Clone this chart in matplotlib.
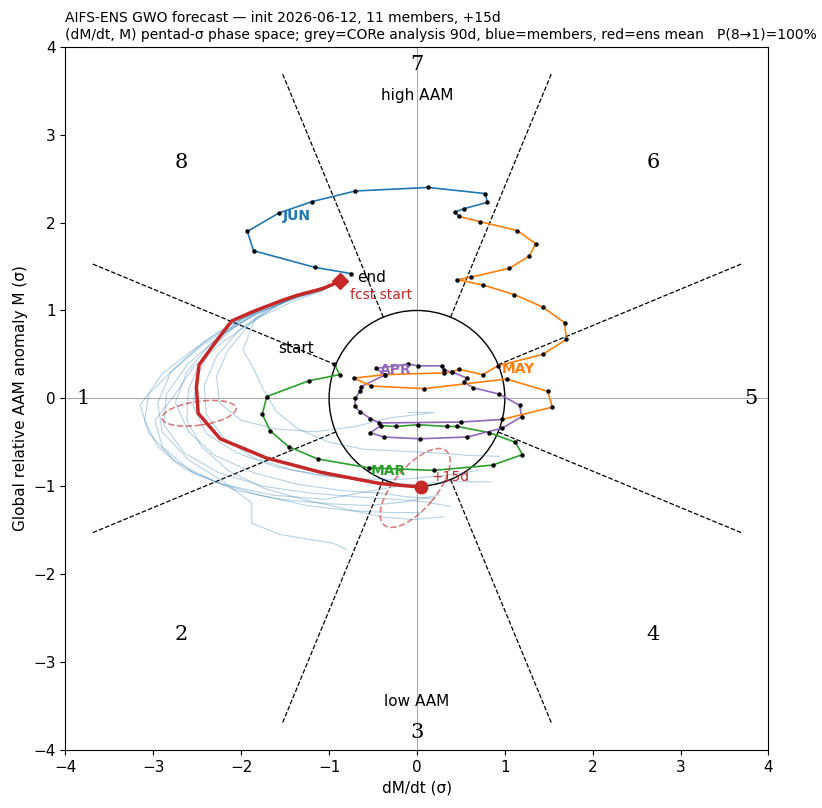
import numpy as np
import matplotlib
matplotlib.use('Agg')
import matplotlib.pyplot as plt
from matplotlib.patches import Circle, Ellipse

# %% analysis trajectory (CORe, 90d), split by month
mar_x = [-0.94, -0.88, -1.23, -1.71, -1.76, -1.67, -1.46, -1.13, -0.55, 0.19, 0.86, 1.20, 1.12, 0.82, 0.46, 0.34, 0.01, -0.24, -0.41]
mar_y = [0.39, 0.27, 0.20, 0.02, -0.18, -0.37, -0.55, -0.69, -0.79, -0.82, -0.76, -0.64, -0.50, -0.39, -0.32, -0.32, -0.30, -0.32, -0.31]
apr_x = [-0.53, -0.38, 0.03, 0.57, 0.97, 1.19, 1.17, 0.93, 0.64, 0.53, 0.57, 0.40, 0.31, 0.28, 0.01, -0.10, -0.47, -0.36, -0.64, -0.65, -0.70, -0.71, -0.65, -0.53, -0.43, 0.50, 0.97]
apr_y = [-0.39, -0.44, -0.46, -0.44, -0.34, -0.21, -0.08, 0.05, 0.12, 0.19, 0.23, 0.30, 0.32, 0.37, 0.37, 0.39, 0.34, 0.27, 0.13, 0.08, 0.00, -0.09, -0.15, -0.23, -0.28, -0.27, -0.24]
may_x = [1.54, 1.49, 1.02, 0.08, -0.52, -0.72, -0.36, 0.31, 0.40, 0.48, 0.75, 0.92, 1.43, 1.70, 1.68, 1.43, 1.11, 0.75, 0.46, 0.62, 1.05, 1.28, 1.35, 1.14, 0.72, 0.48]
may_y = [-0.10, 0.08, 0.22, 0.11, 0.14, 0.23, 0.27, 0.29, 0.30, 0.33, 0.27, 0.37, 0.50, 0.67, 0.86, 1.04, 1.18, 1.29, 1.35, 1.38, 1.48, 1.62, 1.76, 1.91, 2.01, 2.07]
jun_x = [0.43, 0.54, 0.80, 0.78, 0.13, -0.70, -1.19, -1.57, -1.93, -1.86, -1.16, -0.75]
jun_y = [2.12, 2.16, 2.23, 2.33, 2.40, 2.36, 2.24, 2.11, 1.90, 1.68, 1.49, 1.42]

months = ['MAR', 'APR', 'MAY', 'JUN']
month_colors = ['tab:green', 'tab:purple', 'tab:orange', 'tab:blue']
month_lab_x = [-0.32, -0.24, 1.15, -1.37]
month_lab_y = [-0.83, 0.32, 0.33, 2.07]

# %% ensemble mean (+0..+15d)
mean_x = [-0.88, -1.07, -1.37, -1.52, -1.86, -2.11, -2.30, -2.48, -2.51, -2.49, -2.24, -1.71, -1.10, -0.42, 0.05]
mean_y = [1.33, 1.25, 1.17, 1.12, 0.99, 0.88, 0.63, 0.38, 0.13, -0.17, -0.46, -0.68, -0.84, -0.97, -1.01]

# %% members
mem_x = [
    [-0.88, -1.08, -1.40, -1.75, -2.15, -2.55, -2.90, -3.15, -3.05, -2.75, -2.30, -1.80, -1.25, -0.75, -0.30, 0.05],
    [-0.88, -1.06, -1.38, -1.70, -2.05, -2.45, -2.80, -2.95, -2.90, -2.60, -2.20, -1.88, -1.88, -1.56, -0.95, -0.80],
    [-0.88, -1.10, -1.45, -1.85, -2.25, -2.60, -2.85, -2.88, -2.65, -2.25, -1.75, -1.20, -0.70, -0.25, 0.10, 0.38],
    [-0.88, -1.05, -1.35, -1.65, -2.00, -2.35, -2.62, -2.75, -2.60, -2.30, -1.85, -1.35, -0.85, -0.40, -0.12, 0.20],
    [-0.88, -1.08, -1.40, -1.75, -2.08, -2.35, -2.50, -2.55, -2.40, -2.05, -1.60, -1.10, -0.60, -0.15, 0.30, 0.70],
    [-0.88, -1.04, -1.30, -1.55, -1.84, -1.98, -1.87, -1.75, -1.60, -1.35, -1.00, -0.60, -0.20, 0.20, 0.60, 0.94],
    [-0.88, -1.06, -1.35, -1.62, -1.90, -2.15, -2.28, -2.25, -2.00, -1.60, -1.15, -0.70, -0.30, 0.05, 0.20, -0.10],
    [-0.88, -1.09, -1.42, -1.80, -2.20, -2.55, -2.75, -2.98, -2.90, -2.55, -2.05, -1.55, -1.00, -0.55, -0.15, 0.25],
    [-0.88, -1.07, -1.38, -1.72, -2.02, -2.28, -2.42, -2.40, -2.20, -1.85, -1.40, -0.90, -0.45, -0.05, 0.35, 0.85],
    [-0.88, -1.05, -1.36, -1.68, -2.05, -2.42, -2.75, -3.05, -3.10, -2.95, -2.65, -2.20, -1.65, -1.05, -0.50, -0.10],
    [-0.88, -1.10, -1.44, -1.82, -2.18, -2.45, -2.60, -2.62, -2.45, -2.15, -1.75, -1.30, -0.85, -0.40, -0.05, 0.30],
]
mem_y = [
    [1.33, 1.24, 1.16, 1.02, 0.82, 0.55, 0.28, -0.08, -0.40, -0.72, -0.95, -1.10, -1.22, -1.28, -1.30, -1.30],
    [1.33, 1.25, 1.18, 1.05, 0.85, 0.60, 0.30, -0.05, -0.38, -0.70, -0.95, -1.19, -1.42, -1.55, -1.65, -1.72],
    [1.33, 1.22, 1.12, 0.95, 0.70, 0.40, 0.05, -0.30, -0.62, -0.85, -1.00, -1.08, -1.12, -1.15, -1.18, -1.23],
    [1.33, 1.26, 1.18, 1.07, 0.90, 0.62, 0.30, -0.05, -0.38, -0.65, -0.85, -0.98, -1.05, -1.08, -1.12, -1.14],
    [1.33, 1.23, 1.14, 1.00, 0.82, 0.55, 0.25, -0.08, -0.40, -0.62, -0.78, -0.88, -0.92, -0.92, -0.88, -0.82],
    [1.33, 1.27, 1.20, 1.08, 0.91, 0.55, 0.36, 0.10, -0.15, -0.35, -0.50, -0.58, -0.60, -0.62, -0.65, -0.66],
    [1.33, 1.24, 1.16, 1.04, 0.85, 0.55, 0.25, -0.05, -0.25, -0.35, -0.38, -0.32, -0.22, -0.18, -0.16, -0.16],
    [1.33, 1.22, 1.10, 0.92, 0.65, 0.35, 0.05, -0.25, -0.55, -0.85, -1.05, -1.15, -1.20, -1.22, -1.18, -1.10],
    [1.33, 1.25, 1.15, 1.00, 0.78, 0.48, 0.15, -0.18, -0.45, -0.68, -0.82, -0.90, -0.95, -0.98, -0.95, -0.95],
    [1.33, 1.25, 1.17, 1.05, 0.88, 0.65, 0.35, 0.05, -0.25, -0.55, -0.80, -0.98, -1.10, -1.15, -1.05, -0.98],
    [1.33, 1.23, 1.13, 0.97, 0.75, 0.45, 0.10, -0.25, -0.55, -0.82, -1.02, -1.15, -1.25, -1.35, -1.38, -1.35],
]

# spread ellipses: centre x, centre y, width, height, angle
ell_cx = [-2.48, -0.02]
ell_cy = [-0.17, -1.02]
ell_w = [0.85, 1.10]
ell_h = [0.27, 0.48]
ell_ang = [8, 50]

phases = [1, 2, 3, 4, 5, 6, 7, 8]
phase_ang = [180, 225, 270, 315, 0, 45, 90, 135]

red = '#c62828'

# %%
fig = plt.figure(figsize=(8.22, 8.08), dpi=100)
ax = fig.add_axes([0.079, 0.072, 0.8565, 0.870])

ax.axhline(0, color='#aaaaaa', lw=0.8, zorder=1)
ax.axvline(0, color='#aaaaaa', lw=0.8, zorder=1)
ax.add_patch(Circle((0, 0), 1, fill=False, color='black', lw=1, zorder=2))

for a in np.arange(22.5, 360, 45):
    t = np.deg2rad(a)
    ax.plot([np.cos(t), 4 * np.cos(t)], [np.sin(t), 4 * np.sin(t)], color='black', ls='--', lw=0.9, zorder=1)

for p, a in zip(phases, phase_ang):
    t = np.deg2rad(a)
    ax.text(3.8 * np.cos(t), 3.8 * np.sin(t), str(p), fontsize=15, family='DejaVu Serif',
            ha='center', va='center')
ax.text(0, 3.45, 'high AAM', fontsize=11, ha='center', va='center')
ax.text(0, -3.45, 'low AAM', fontsize=11, ha='center', va='center')

# members
for mx, my in zip(mem_x, mem_y):
    ax.plot(mx, my, color='tab:blue', lw=0.8, alpha=0.33, zorder=2)

# analysis, one colour per month, each piece joined to the previous one
segs = [(mar_x, mar_y), (apr_x, apr_y), (may_x, may_y), (jun_x, jun_y)]
px, py = None, None
for (sx, sy), c in zip(segs, month_colors):
    xs = list(sx) if px is None else [px] + list(sx)
    ys = list(sy) if py is None else [py] + list(sy)
    ax.plot(xs, ys, color=c, lw=1.2, zorder=3)
    ax.plot(sx, sy, 'o', color='black', ms=2.2, zorder=4)
    px, py = sx[-1], sy[-1]
for m, c, lx, ly in zip(months, month_colors, month_lab_x, month_lab_y):
    ax.text(lx, ly, m, color=c, fontsize=10, fontweight='bold', ha='center', va='center', zorder=5)

ax.text(mar_x[0] - 0.44, mar_y[0] + 0.18, 'start', fontsize=11, ha='center', va='center')
ax.text(jun_x[-1] + 0.07, jun_y[-1] - 0.04, 'end', fontsize=11, ha='left', va='center')

# ensemble mean + spread
for cx, cy, w, h, an in zip(ell_cx, ell_cy, ell_w, ell_h, ell_ang):
    ax.add_patch(Ellipse((cx, cy), w, h, angle=an, fill=False, ec=red, ls='--', lw=1.2, alpha=0.6, zorder=4))
ax.plot(mean_x, mean_y, color=red, lw=2.5, zorder=5)
ax.plot(mean_x[0], mean_y[0], 'D', color=red, ms=8, zorder=6)
ax.plot(mean_x[-1], mean_y[-1], 'o', color=red, ms=9, zorder=6)
ax.text(mean_x[0] + 0.12, mean_y[0] - 0.15, 'fcst start', color=red, fontsize=10, ha='left', va='center')
ax.text(mean_x[-1] + 0.12, mean_y[-1] + 0.11, '+15d', color=red, fontsize=10, ha='left', va='center')

ax.set_xlim(-4, 4)
ax.set_ylim(-4, 4)
ax.set_aspect('equal')
ax.tick_params(labelsize=11)
ax.set_xlabel('dM/dt (σ)', fontsize=11)
ax.set_ylabel('Global relative AAM anomaly M (σ)', fontsize=11)
ax.set_title('AIFS-ENS GWO forecast — init 2026-06-12, 11 members, +15d\n'
             '(dM/dt, M) pentad-σ phase space; grey=CORe analysis 90d, blue=members, red=ens mean   P(8→1)=100%',
             loc='left', fontsize=10)

plt.savefig('out.png', dpi=100)
